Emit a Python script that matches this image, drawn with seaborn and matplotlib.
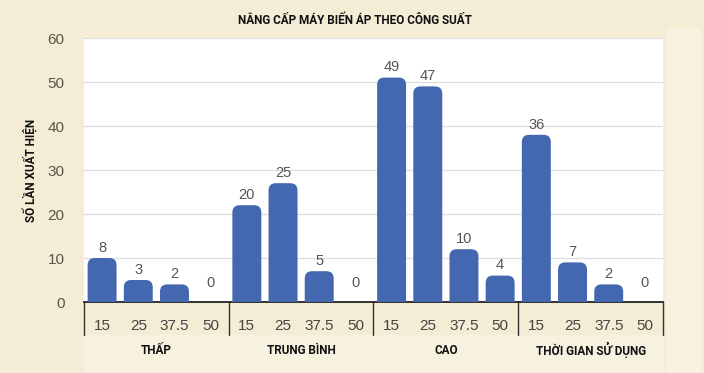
import matplotlib
matplotlib.use("Agg")
import matplotlib.pyplot as plt
import matplotlib.transforms as mtransforms
from matplotlib.patches import FancyBboxPatch, Rectangle
from matplotlib import font_manager
import pandas as pd
import seaborn as sns

# --- Daten ---
groups = ["THẤP", "TRUNG BÌNH", "CAO", "THỜI GIAN SỬ DỤNG"]
capacities = ["15", "25", "37.5", "50"]
counts_thap = [8, 3, 2, 0]
counts_trung_binh = [20, 25, 5, 0]
counts_cao = [49, 47, 10, 4]
counts_thoi_gian = [36, 7, 2, 0]
title = "NÂNG CẤP MÁY BIẾN ÁP THEO CÔNG SUẤT"
ylabel = "SỐ LẦN XUẤT HIỆN"
yticks = [0, 10, 20, 30, 40, 50, 60]

all_counts = [counts_thap, counts_trung_binh, counts_cao, counts_thoi_gian]
rows = []
for g, vals in zip(groups, all_counts):
    for c, v in zip(capacities, vals):
        rows.append({"group": g, "cap": c, "slot": f"{g}|{c}", "count": v})
df = pd.DataFrame(rows)

# --- Stil ---
bg = "#f4ecd4"
band = "#f7f1e0"
bar_color = "#4468b0"
cap = 2.0  # abgerundete Kappe oben auf den Balken

sns.set_theme(style="white")
avail = {f.name for f in font_manager.fontManager.ttflist}
narrow = "Liberation Sans Narrow" if "Liberation Sans Narrow" in avail else "Roboto"
plt.rcParams["font.family"] = ["Liberation Sans", "DejaVu Sans"]

fig = plt.figure(figsize=(7.04, 3.73), dpi=100, facecolor=bg)
ax = fig.add_axes([84 / 704, 1 - 302 / 373, (663 - 84) / 704, (302 - 38) / 373])
ax.set_facecolor("white")

# helleres Band für Gruppenbeschriftung und rechter Streifen
fig.patches.append(Rectangle((84 / 704, 1 - 372 / 373), (663 - 84) / 704, 37 / 373,
                             transform=fig.transFigure, color=band, zorder=-5))
fig.patches.append(Rectangle((666 / 704, 1 - 372 / 373), 34 / 704, 344 / 373,
                             transform=fig.transFigure, color=band, zorder=-5))

sns.barplot(data=df, x="slot", y="count", color=bar_color, width=0.8,
            ax=ax, saturation=1, errorbar=None)

# Balken durch abgerundete Varianten ersetzen
px_x = (663 - 84) / 16
px_y = (302 - 38) / 60
for p in list(ax.patches):
    h = p.get_height()
    x0, w = p.get_x(), p.get_width()
    p.remove()
    if h <= 0:
        continue
    fb = FancyBboxPatch((x0, -5), w, h + cap + 5,
                        boxstyle="round,pad=0,rounding_size=0.2",
                        mutation_aspect=px_x / px_y,
                        facecolor=bar_color, edgecolor="none", zorder=3)
    ax.add_patch(fb)

# Werte über den Balken
for i, v in enumerate(df["count"]):
    ax.text(i, v + 4.3, str(v), ha="center", va="center",
            fontsize=10.5, color="#555555", zorder=4)

ax.set_xlim(-0.5, 15.5)
ax.set_ylim(0, 60)
ax.set_yticks(yticks)
ax.set_yticklabels([str(t) for t in yticks], fontsize=11, color="#5a5548")
ax.set_xticks(range(len(df)))
ax.set_xticklabels(df["cap"], fontsize=11, color="#444444")
ax.tick_params(axis="x", length=0, pad=12)
ax.tick_params(axis="y", length=0, pad=14)
ax.set_xlabel("")
ax.set_ylabel("")
ax.yaxis.grid(True, color="#dddddd", linewidth=0.9)
ax.set_axisbelow(True)
for s in ["top", "left", "right"]:
    ax.spines[s].set_visible(False)
ax.spines["bottom"].set_color("#222222")
ax.spines["bottom"].set_linewidth(1.3)

# Trennlinien der Gruppen
trans = mtransforms.blended_transform_factory(ax.transData, ax.transAxes)
for xs in [-0.5, 3.5, 7.5, 11.5, 15.5]:
    ax.plot([xs, xs], [0, -33 / 264], transform=trans, color="#333333",
            linewidth=1.0, clip_on=False)

# Gruppenbeschriftung
for k, g in enumerate(groups):
    ax.text(k * 4 + 1.5, -48 / 264, g, transform=trans, ha="center", va="center",
            fontsize=8.5, fontweight="bold", color="#111111",
            family=[narrow, "DejaVu Sans"])

fig.text(355 / 704, 1 - 20 / 373, title, ha="center", va="center",
         fontsize=8.5, fontweight="bold", color="#111111",
         family=[narrow, "DejaVu Sans"])
fig.text(30 / 704, 1 - 170 / 373, ylabel, ha="center", va="center", rotation=90,
         fontsize=8.5, fontweight="bold", color="#111111",
         family=[narrow, "DejaVu Sans"])

fig.savefig("out.png", dpi=100, facecolor=bg)
